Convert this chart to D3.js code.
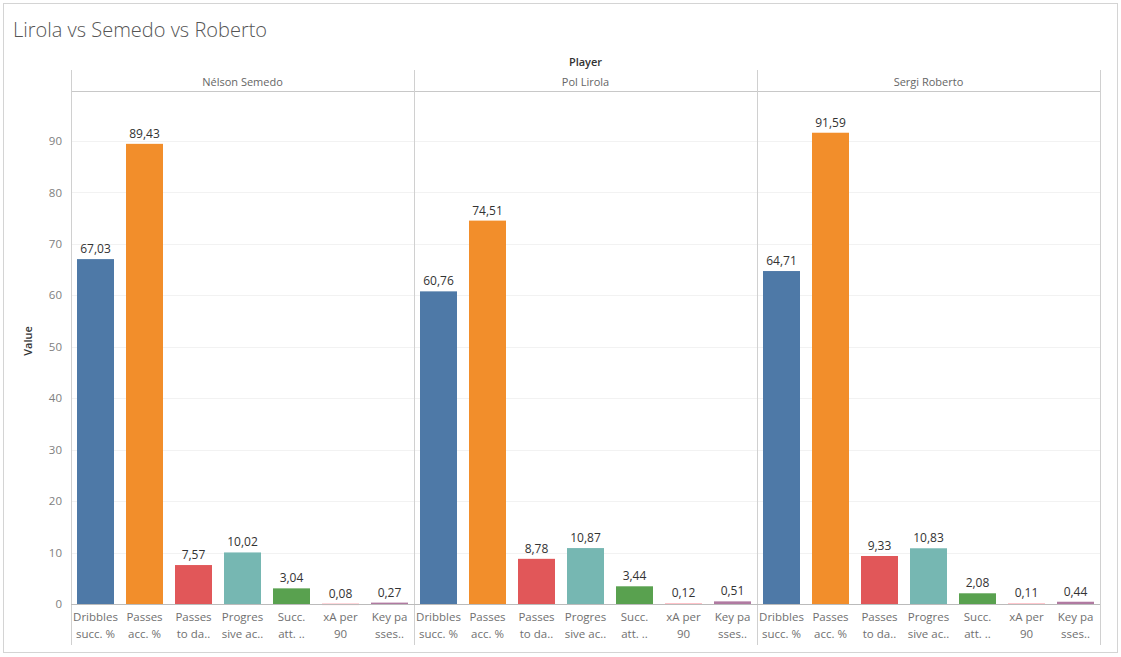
<!DOCTYPE html>
<html><head><meta charset="utf-8">
<script src="https://cdn.jsdelivr.net/npm/d3@7"></script>
<style>
body{margin:0;background:#fff;}
text{font-family:"Open Sans","Lato",sans-serif;}
</style></head>
<body><svg id="c" width="1121" height="657"></svg>
<script>
const title = "Lirola vs Semedo vs Roberto";
const players = ["Nélson Semedo", "Pol Lirola", "Sergi Roberto"];
const metrics = ["Dribbles succ. %", "Passes acc. %", "Passes to da..", "Progressive ac..", "Succ. att. ..", "xA per 90", "Key passes.."];
const metricLines = [["Dribbles","succ. %"],["Passes","acc. %"],["Passes","to da.."],["Progres","sive ac.."],["Succ.","att. .."],["xA per","90"],["Key pa","sses.."]];
const semedoValues = [67.03, 89.43, 7.57, 10.02, 3.04, 0.08, 0.27];
const lirolaValues = [60.76, 74.51, 8.78, 10.87, 3.44, 0.12, 0.51];
const robertoValues = [64.71, 91.59, 9.33, 10.83, 2.08, 0.11, 0.44];
const yTicks = [0,10,20,30,40,50,60,70,80,90];
const colors = ["#4e79a7","#f28e2b","#e15759","#76b7b2","#59a14f","#ff9da7","#b07aa1"];

const seriesValues = [semedoValues, lirolaValues, robertoValues];
const svg = d3.select("#c");
const pLeft = 71, pRight = 1100, pTop = 91, pBottom = 604;

// outer border
svg.append("rect").attr("x",3.5).attr("y",3.5).attr("width",1114).attr("height",649)
  .attr("fill","none").attr("stroke","#d4d4d4");

svg.append("text").attr("x",13).attr("y",37).text(title)
  .attr("font-size",20).attr("fill","#555").attr("font-weight",300);

const fx = d3.scaleBand().domain(players).range([pLeft,pRight]);
const y = d3.scaleLinear().domain([0,99.7]).range([pBottom,pTop]);
const fmt = v => d3.format(".2f")(v).replace(".", ",");

// gridlines
svg.append("g").selectAll("line").data(yTicks.slice(1)).join("line")
  .attr("x1",pLeft).attr("x2",pRight).attr("y1",d=>Math.round(y(d))+0.5).attr("y2",d=>Math.round(y(d))+0.5)
  .attr("stroke","#f2f2f2");

// y axis
const yAxis = svg.append("g").attr("transform",`translate(${pLeft},0)`)
  .call(d3.axisLeft(y).tickValues(yTicks).tickSize(0).tickPadding(9));
yAxis.select(".domain").remove();
yAxis.selectAll("text").attr("font-size",11.5).attr("fill","#808080").attr("font-family","'Open Sans',sans-serif");

svg.append("text").attr("transform","translate(32,341) rotate(-90)").attr("text-anchor","middle")
  .attr("font-size",11).attr("fill","#333").attr("font-weight",600).text("Value");

svg.append("text").attr("x",(pLeft+pRight)/2).attr("y",66).attr("text-anchor","middle")
  .attr("font-size",11).attr("fill","#333").attr("font-weight",600).text("Player");

// header line
svg.append("line").attr("x1",pLeft).attr("x2",pRight).attr("y1",91.5).attr("y2",91.5).attr("stroke","#c8c8c8");

// vertical separators
const seps = players.map(p=>fx(p)).concat([pRight]);
svg.append("g").selectAll("line").data(seps).join("line")
  .attr("x1",d=>d+0.5).attr("x2",d=>d+0.5).attr("y1",70).attr("y2",645).attr("stroke","#d0d0d0");

players.forEach((p,i)=>{
  const g = svg.append("g");
  g.append("text").attr("x",fx(p)+fx.bandwidth()/2).attr("y",86).attr("text-anchor","middle")
    .attr("font-size",11).attr("fill","#666").text(p);
  const x = d3.scaleBand().domain(metrics).range([fx(p),fx(p)+fx.bandwidth()]).paddingInner(0.245).paddingOuter(0.1225);
  const data = metrics.map((m,j)=>({m, v:seriesValues[i][j], c:colors[j], lines:metricLines[j]}));
  g.selectAll("rect").data(data).join("rect")
    .attr("x",d=>x(d.m)).attr("width",x.bandwidth())
    .attr("y",d=>y(d.v)).attr("height",d=>Math.max(y(0)-y(d.v),1.5)).attr("fill",d=>d.c);
  g.selectAll("text.v").data(data).join("text").attr("class","v")
    .attr("x",d=>x(d.m)+x.bandwidth()/2).attr("y",d=>y(d.v)-6).attr("text-anchor","middle")
    .attr("font-size",12).attr("fill","#333").text(d=>fmt(d.v));
  // axis line
  g.append("line").attr("x1",fx(p)).attr("x2",fx(p)+fx.bandwidth()).attr("y1",pBottom+0.5).attr("y2",pBottom+0.5).attr("stroke","#bbb");
  const lab = g.selectAll("text.l").data(data).join("text").attr("class","l")
    .attr("text-anchor","middle").attr("font-size",11.5).attr("fill","#707070");
  lab.each(function(d){
    const t = d3.select(this);
    const cx = x(d.m)+x.bandwidth()/2;
    d.lines.forEach((ln,k)=>t.append("tspan").attr("x",cx).attr("y",621+k*17).text(ln));
  });
});
</script></body></html>
